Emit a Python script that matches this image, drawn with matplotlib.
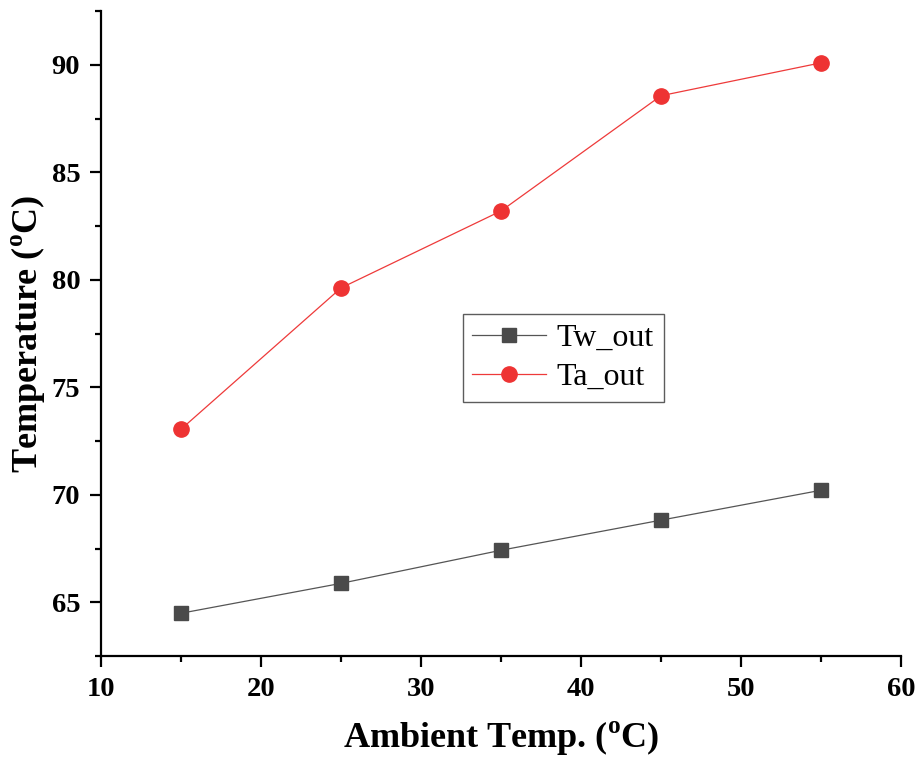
import matplotlib
matplotlib.use('Agg')
import matplotlib.pyplot as plt
from matplotlib.ticker import MultipleLocator

plt.rcParams['font.family'] = 'Liberation Serif'
plt.rcParams['mathtext.fontset'] = 'custom'
plt.rcParams['mathtext.rm'] = 'Liberation Serif:bold'
plt.rcParams['mathtext.bf'] = 'Liberation Serif:bold'

ambient = [15, 25, 35, 45, 55]
tw_out = [64.49, 65.88, 67.42, 68.82, 70.21]
ta_out = [73.05, 79.62, 83.20, 88.56, 90.09]

fig = plt.figure(figsize=(9.16, 7.6), dpi=100)
ax = fig.add_axes([0.1103, 0.1368, 0.8733, 0.8487])

ax.plot(ambient, tw_out, color='#555555', lw=0.9, marker='s', ms=10,
        mfc='#4a4a4a', mec='#4a4a4a', label='Tw_out')
ax.plot(ambient, ta_out, color='#ee3a3a', lw=0.9, marker='o', ms=11,
        mfc='#ee3333', mec='#ee3333', label='Ta_out')

ax.set_xlim(10, 60)
ax.set_ylim(62.5, 92.5)
ax.xaxis.set_major_locator(MultipleLocator(10))
ax.xaxis.set_minor_locator(MultipleLocator(5))
ax.yaxis.set_major_locator(MultipleLocator(5))
ax.yaxis.set_minor_locator(MultipleLocator(2.5))

for s in ['top', 'right']:
    ax.spines[s].set_visible(False)
for s in ['left', 'bottom']:
    ax.spines[s].set_linewidth(1.6)

ax.tick_params(which='major', direction='out', length=8, width=1.6, labelsize=20.5, pad=7)
ax.tick_params(which='minor', direction='out', length=4.5, width=1.6)
for lab in ax.get_xticklabels() + ax.get_yticklabels():
    lab.set_fontweight('bold')

ax.set_xlabel(r'Ambient Temp. ($^{\mathrm{o}}$C)', fontsize=26, fontweight='bold', labelpad=12)
ax.set_ylabel(r'Temperature ($^{\mathrm{o}}$C)', fontsize=26, fontweight='bold', labelpad=3)

leg = ax.legend(loc='upper left', bbox_to_anchor=(0.452, 0.53), fontsize=23,
                frameon=True, fancybox=False, edgecolor='#333333',
                handlelength=2.3, handletextpad=0.35, borderpad=0.3,
                labelspacing=0.3, borderaxespad=0)
leg.get_frame().set_linewidth(1.0)

fig.savefig('out.png', dpi=100)
